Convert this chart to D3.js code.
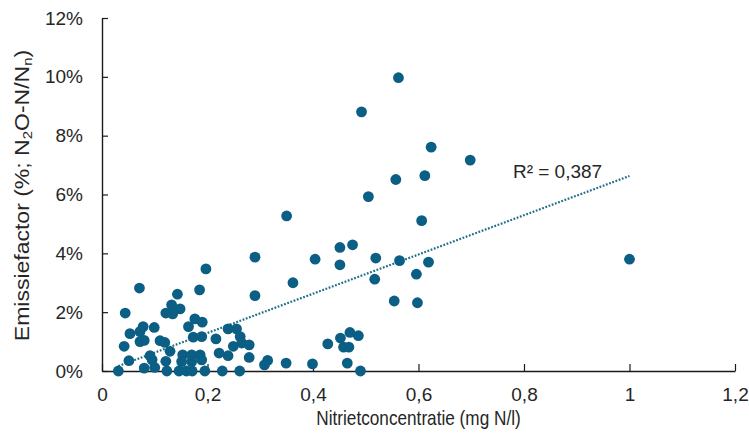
<!DOCTYPE html>
<html>
<head>
<meta charset="utf-8">
<script src="https://cdn.jsdelivr.net/npm/d3@7"></script>
<style>
  html, body { margin: 0; padding: 0; background: #fff; }
  svg { display: block; font-family: "Liberation Sans", Arial, sans-serif; }
</style>
</head>
<body>
<svg id="chart" width="749" height="438"></svg>
<script>
// Nitrite concentration (mg N/l)
const nitrite = [
  0.562, 0.492, 0.624, 0.698, 0.557, 0.612, 0.505, 0.606, 0.451, 0.475,
  0.451, 0.519, 0.564, 0.619, 0.517, 0.596, 0.554, 0.598, 1.000, 0.428,
  0.452, 0.470, 0.486, 0.458, 0.468, 0.465, 0.490, 0.350, 0.404, 0.362,
  0.290, 0.290, 0.197, 0.185, 0.399, 0.349, 0.314, 0.308, 0.143, 0.132,
  0.148, 0.121, 0.134, 0.176, 0.190, 0.164, 0.239, 0.255, 0.173, 0.189,
  0.216, 0.262, 0.265, 0.279, 0.249, 0.239, 0.222, 0.279, 0.129, 0.153,
  0.170, 0.186, 0.189, 0.151, 0.170, 0.031, 0.080, 0.100, 0.123, 0.146,
  0.160, 0.171, 0.195, 0.228, 0.261, 0.071, 0.044, 0.078, 0.099, 0.072,
  0.053, 0.072, 0.080, 0.110, 0.119, 0.042, 0.091, 0.095, 0.121, 0.051
];
// Emission factor (% N2O-N / Nn)
const emission = [
  9.97, 8.81, 7.61, 7.17, 6.51, 6.64, 5.93, 5.11, 4.20, 4.29,
  3.61, 3.84, 3.75, 3.70, 3.12, 3.29, 2.38, 2.32, 3.80, 0.92,
  1.12, 1.31, 1.20, 0.81, 0.81, 0.27, 0.00, 5.27, 3.80, 3.00,
  3.87, 2.56, 3.47, 2.76, 0.24, 0.27, 0.36, 0.21, 2.61, 2.25,
  2.11, 1.97, 1.94, 1.77, 1.66, 1.51, 1.43, 1.43, 1.15, 1.17,
  1.09, 1.17, 0.95, 0.89, 0.84, 0.52, 0.61, 0.46, 0.67, 0.55,
  0.55, 0.55, 0.38, 0.32, 0.32, 0.00, 0.10, 0.12, 0.00, 0.00,
  0.00, 0.00, 0.00, 0.00, 0.00, 2.82, 1.97, 1.51, 1.48, 1.34,
  1.27, 1.00, 1.04, 1.03, 0.97, 0.84, 0.52, 0.38, 0.33, 0.35
];
const xTicks = [0, 0.2, 0.4, 0.6, 0.8, 1, 1.2];
const xTickLabels = ["0", "0,2", "0,4", "0,6", "0,8", "1", "1,2"];
const yTicks = [0, 2, 4, 6, 8, 10, 12];
const yTickLabels = ["0%", "2%", "4%", "6%", "8%", "10%", "12%"];
const trendCoef = [6.67, -0.04]; // slope, intercept (%)
const rSquaredLabel = "R² = 0,387";

const svg = d3.select("#chart");
const margin = { left: 102, right: 14, top: 18, bottom: 67 };
const W = 749, H = 438;
const x = d3.scaleLinear().domain([0, 1.2]).range([margin.left, W - margin.right]);
const y = d3.scaleLinear().domain([0, 12]).range([H - margin.bottom, margin.top]);

const textColor = "#262626";
const pointColor = "#0b5e84";
const trendColor = "#1f6f88";
const squeeze = 0.86; // horizontal condensation of the title lettering

// axes
const xAxis = d3.axisBottom(x).tickValues(xTicks)
  .tickFormat((d, i) => xTickLabels[i]).tickSizeInner(-7).tickSizeOuter(0).tickPadding(17);
const yAxis = d3.axisLeft(y).tickValues(yTicks)
  .tickFormat((d, i) => yTickLabels[i]).tickSizeInner(-6).tickSizeOuter(0).tickPadding(19);

const gx = svg.append("g").attr("transform", `translate(0,${y(0)})`).call(xAxis);
const gy = svg.append("g").attr("transform", `translate(${x(0)},0)`).call(yAxis);
[gx, gy].forEach(g => {
  g.select(".domain").attr("stroke", "#1a1a1a").attr("stroke-width", 1.4);
  g.selectAll(".tick line").attr("stroke", "#1a1a1a").attr("stroke-width", 1.2);
  g.selectAll(".tick text").attr("fill", textColor).attr("font-size", 19)
    .attr("font-family", "'Liberation Sans', Arial, sans-serif");
});

// trendline
const xr = d3.extent(nitrite);
svg.append("line")
  .attr("x1", x(xr[0])).attr("y1", y(trendCoef[0] * xr[0] + trendCoef[1]))
  .attr("x2", x(xr[1])).attr("y2", y(trendCoef[0] * xr[1] + trendCoef[1]))
  .attr("stroke", trendColor).attr("stroke-width", 2.2)
  .attr("stroke-dasharray", "1.8,1.6");

// points
svg.append("g").selectAll("circle")
  .data(nitrite.map((v, i) => [v, emission[i]]))
  .join("circle")
  .attr("cx", d => x(d[0])).attr("cy", d => y(d[1]))
  .attr("r", 5.4).attr("fill", pointColor);

// R² label
svg.append("text")
  .attr("x", x(0.779)).attr("y", y(6.73))
  .attr("dominant-baseline", "middle")
  .attr("font-size", 19).attr("fill", textColor)
  .text(rSquaredLabel);

// axis titles
svg.append("text")
  .attr("transform", `translate(${(x(0) + x(1.2)) / 2},425) scale(${squeeze},1)`)
  .attr("text-anchor", "middle").attr("font-size", 20).attr("fill", textColor)
  .text("Nitrietconcentratie (mg N/l)");

const yt = svg.append("text")
  .attr("transform", `translate(29,${(y(0) + y(12)) / 2 + 1}) scale(${squeeze},1) rotate(-90)`)
  .attr("text-anchor", "middle").attr("font-size", 23).attr("fill", textColor);
yt.append("tspan").text("Emissiefactor (%; N");
yt.append("tspan").attr("font-size", 15).attr("dy", 4).text("2");
yt.append("tspan").attr("dy", -4).text("O-N/N");
yt.append("tspan").attr("font-size", 15).attr("dy", 4).text("n");
yt.append("tspan").attr("dy", -4).text(")");
</script>
</body>
</html>
